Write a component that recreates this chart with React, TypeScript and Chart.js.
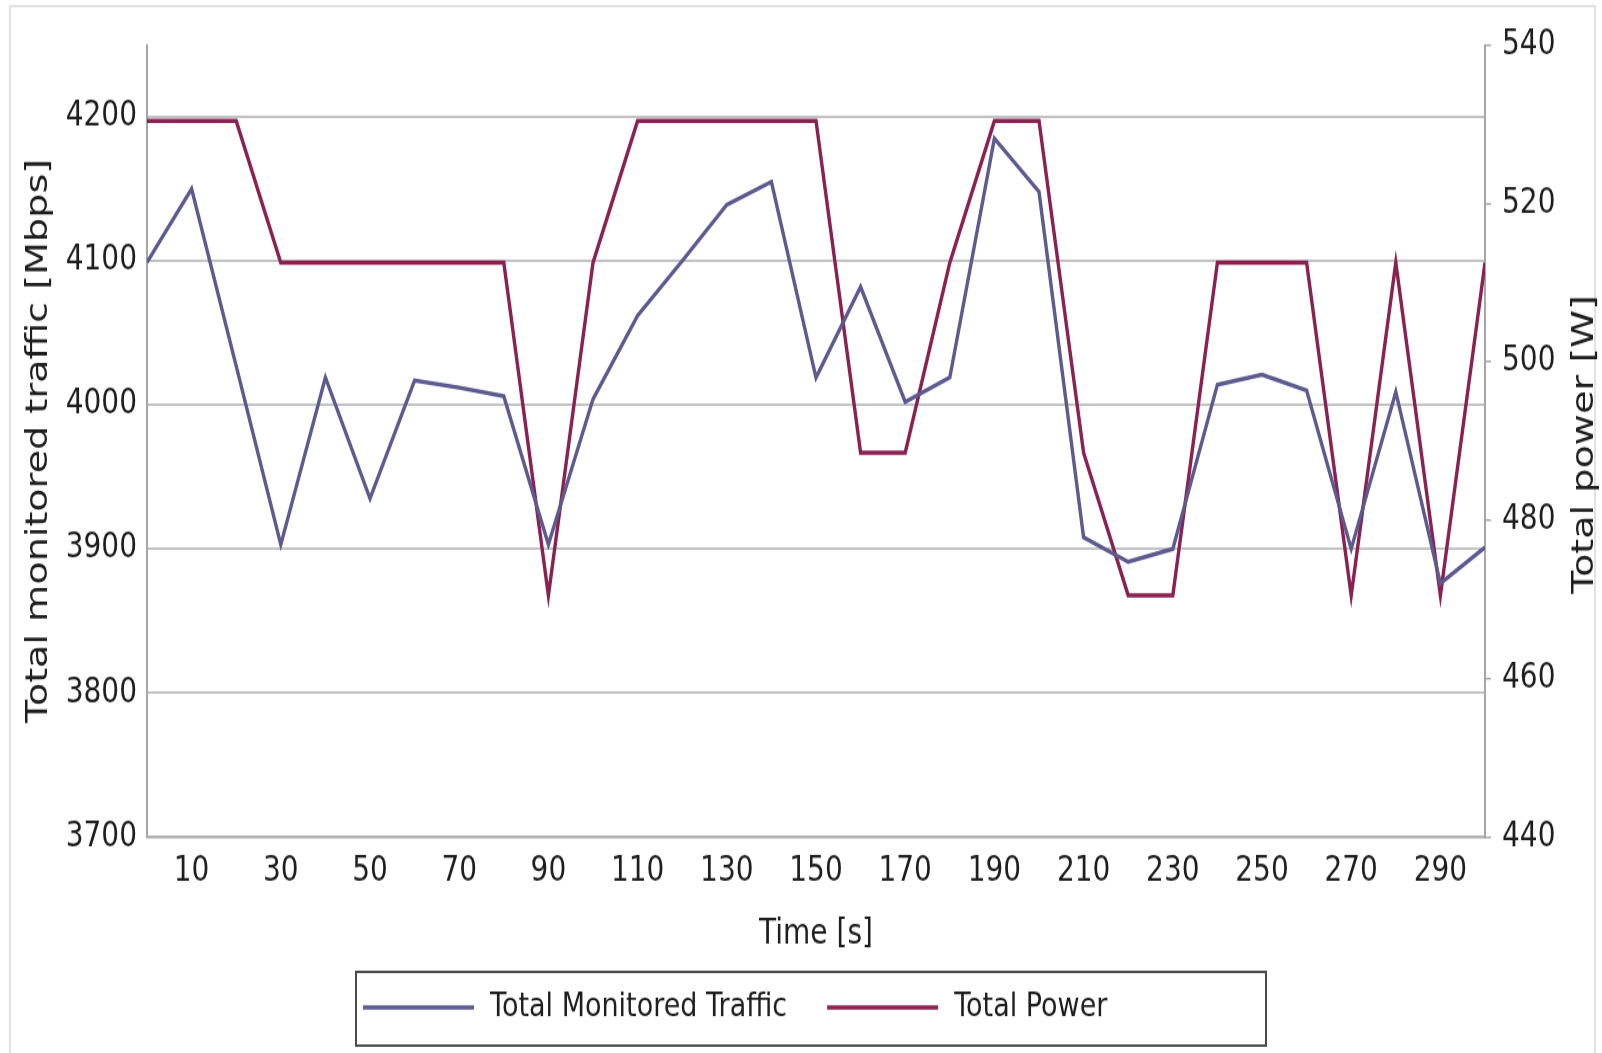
import React, { useEffect, useRef } from 'react';
import { Chart, registerables } from 'chart.js';

Chart.register(...registerables);

// ---- data ----
const timeSec = [0, 10, 20, 30, 40, 50, 60, 70, 80, 90, 100, 110, 120, 130, 140, 150, 160, 170, 180, 190, 200, 210, 220, 230, 240, 250, 260, 270, 280, 290, 300];
const trafficMbps = [4099, 4150, 4027, 3903, 4019, 3935, 4017, 4012, 4006, 3903, 4004, 4062, 4100, 4139, 4155, 4019, 4082, 4002, 4019, 4185, 4148, 3908, 3891, 3900, 4014, 4021, 4010, 3900, 4009, 3876, 3901];
const powerW = [530.4, 530.4, 530.4, 512.5, 512.5, 512.5, 512.5, 512.5, 512.5, 470.5, 512.5, 530.4, 530.4, 530.4, 530.4, 530.4, 488.5, 488.5, 512.5, 530.4, 530.4, 488.5, 470.5, 470.5, 512.5, 512.5, 512.5, 470.5, 512.5, 470.5, 512.5];

const xTickValues = [10, 30, 50, 70, 90, 110, 130, 150, 170, 190, 210, 230, 250, 270, 290];
const trafficTickValues = [3700, 3800, 3900, 4000, 4100, 4200];
const powerTickValues = [440, 460, 480, 500, 520, 540];

const seriesLabels = ['Total Monitored Traffic', 'Total Power'];
const xTitle = 'Time [s]';
const leftTitle = 'Total monitored traffic [Mbps]';
const rightTitle = 'Total power [W]';

// ---- styling ----
// The reference picture is a chart that was stretched vertically; the canvas is
// drawn at a lower height and displayed stretched to reproduce that look.
const PAGE_W = 1602;
const PAGE_H = 1053;
const CANVAS_H = 856;
const FONT = '"DejaVu Sans", "Liberation Sans", sans-serif';
const TRAFFIC_COLOR = '#5c5a8f';
const POWER_COLOR = '#8a2150';
const TEXT_COLOR = '#1e1e1e';
const AXIS_COLOR = '#a6a6a6';
const GRID_COLOR = '#c2c2c2';

const decorPlugin = {
  id: 'decor',
  beforeDraw(chart: any) {
    const ctx = chart.ctx;
    ctx.save();
    ctx.fillStyle = '#ffffff';
    ctx.fillRect(0, 0, chart.width, chart.height);
    ctx.strokeStyle = '#e2e2e2';
    ctx.lineWidth = 2;
    ctx.strokeRect(10, 5, chart.width - 17, chart.height + 40);
    ctx.restore();
  },
  afterDraw(chart: any) {
    const ctx = chart.ctx;
    const area = chart.chartArea;
    const yR = chart.scales.yR;
    // right axis title, reading bottom to top
    ctx.save();
    ctx.font = `31px ${FONT}`;
    ctx.fillStyle = TEXT_COLOR;
    ctx.textAlign = 'center';
    ctx.textBaseline = 'middle';
    ctx.translate(yR.right - 17, (area.top + area.bottom) / 2 + 3);
    ctx.rotate(-Math.PI / 2);
    ctx.fillText(rightTitle, 0, 0);
    ctx.restore();

    // legend box
    const boxLeft = 356;
    const boxTop = 790;
    const boxW = 910;
    const boxH = 60;
    ctx.save();
    ctx.strokeStyle = '#4a4a4a';
    ctx.lineWidth = 2;
    ctx.strokeRect(boxLeft, boxTop, boxW, boxH);
    const cy = boxTop + 29;
    let x = boxLeft + 7;
    ctx.font = `27px ${FONT}`;
    ctx.textAlign = 'left';
    ctx.textBaseline = 'middle';
    chart.data.datasets.forEach((ds: any) => {
      ctx.strokeStyle = ds.borderColor;
      ctx.lineWidth = 3.5;
      ctx.beginPath();
      ctx.moveTo(x, cy);
      ctx.lineTo(x + 111, cy);
      ctx.stroke();
      x += 111 + 16;
      ctx.fillStyle = TEXT_COLOR;
      ctx.fillText(ds.label, x, cy);
      x += ctx.measureText(ds.label).width + 40;
    });
    ctx.restore();
  },
};

export default function App() {
  const ref = useRef<HTMLCanvasElement>(null);

  useEffect(() => {
    const canvas = ref.current;
    if (!canvas) return;
    const chart = new Chart(canvas, {
      type: 'line',
      data: {
        labels: timeSec,
        datasets: [
          {
            label: seriesLabels[0],
            data: timeSec.map((t, i) => ({ x: t, y: trafficMbps[i] })),
            borderColor: TRAFFIC_COLOR,
            backgroundColor: TRAFFIC_COLOR,
            borderWidth: 3.4,
            pointRadius: 0,
            tension: 0,
            yAxisID: 'yL',
          },
          {
            label: seriesLabels[1],
            data: timeSec.map((t, i) => ({ x: t, y: powerW[i] })),
            borderColor: POWER_COLOR,
            backgroundColor: POWER_COLOR,
            borderWidth: 3.4,
            pointRadius: 0,
            tension: 0,
            yAxisID: 'yR',
          },
        ],
      },
      options: {
        responsive: false,
        animation: false,
        devicePixelRatio: 1,
        layout: { padding: { top: 36.5, bottom: 66, left: 0, right: 0 } },
        plugins: {
          legend: { display: false },
          tooltip: { enabled: false },
          title: { display: false },
        },
        scales: {
          x: {
            type: 'linear',
            position: 'bottom',
            min: 0,
            max: 300,
            afterBuildTicks: (axis: any) => {
              axis.ticks = xTickValues.map((v) => ({ value: v }));
            },
            afterFit: (axis: any) => {
              axis.height = 109.7;
            },
            grid: { display: false, drawTicks: false },
            border: { display: true, color: AXIS_COLOR, width: 1.6 },
            ticks: {
              autoSkip: false,
              maxRotation: 0,
              padding: 12,
              color: TEXT_COLOR,
              font: { family: FONT, size: 28 },
              callback: (v: any) => String(v),
            },
            title: {
              display: true,
              text: xTitle,
              color: TEXT_COLOR,
              font: { family: FONT, size: 28 },
              padding: { top: 0, bottom: 13 },
            },
          },
          yL: {
            type: 'linear',
            position: 'left',
            min: 3700,
            max: 4250,
            afterBuildTicks: (axis: any) => {
              axis.ticks = trafficTickValues.map((v) => ({ value: v }));
            },
            afterFit: (axis: any) => {
              axis.width = 147;
            },
            grid: { display: true, drawOnChartArea: true, drawTicks: false, color: GRID_COLOR, lineWidth: 2 },
            border: { display: true, color: AXIS_COLOR, width: 2 },
            ticks: {
              padding: 10,
              color: TEXT_COLOR,
              font: { family: FONT, size: 28 },
              callback: (v: any) => String(v),
            },
            title: {
              display: true,
              text: leftTitle,
              color: TEXT_COLOR,
              font: { family: FONT, size: 31 },
              padding: { top: 20, bottom: 0 },
            },
          },
          yR: {
            type: 'linear',
            position: 'right',
            min: 440,
            max: 540,
            afterBuildTicks: (axis: any) => {
              axis.ticks = powerTickValues.map((v) => ({ value: v }));
            },
            afterFit: (axis: any) => {
              axis.width = 117;
            },
            grid: { display: true, drawOnChartArea: false, drawTicks: true, tickLength: 6, color: AXIS_COLOR, lineWidth: 1.5 },
            border: { display: true, color: AXIS_COLOR, width: 2 },
            ticks: {
              padding: 11,
              color: TEXT_COLOR,
              font: { family: FONT, size: 28 },
              callback: (v: any) => String(v),
            },
            title: { display: false },
          },
        },
      },
      plugins: [decorPlugin],
    } as any);
    return () => chart.destroy();
  }, []);

  return (
    <div style={{ position: 'absolute', left: 0, top: 0, width: PAGE_W, height: PAGE_H, background: '#fff', overflow: 'hidden' }}>
      <canvas
        ref={ref}
        width={PAGE_W}
        height={CANVAS_H}
        style={{ display: 'block', width: `${PAGE_W}px`, height: `${PAGE_H}px` }}
      />
    </div>
  );
}
